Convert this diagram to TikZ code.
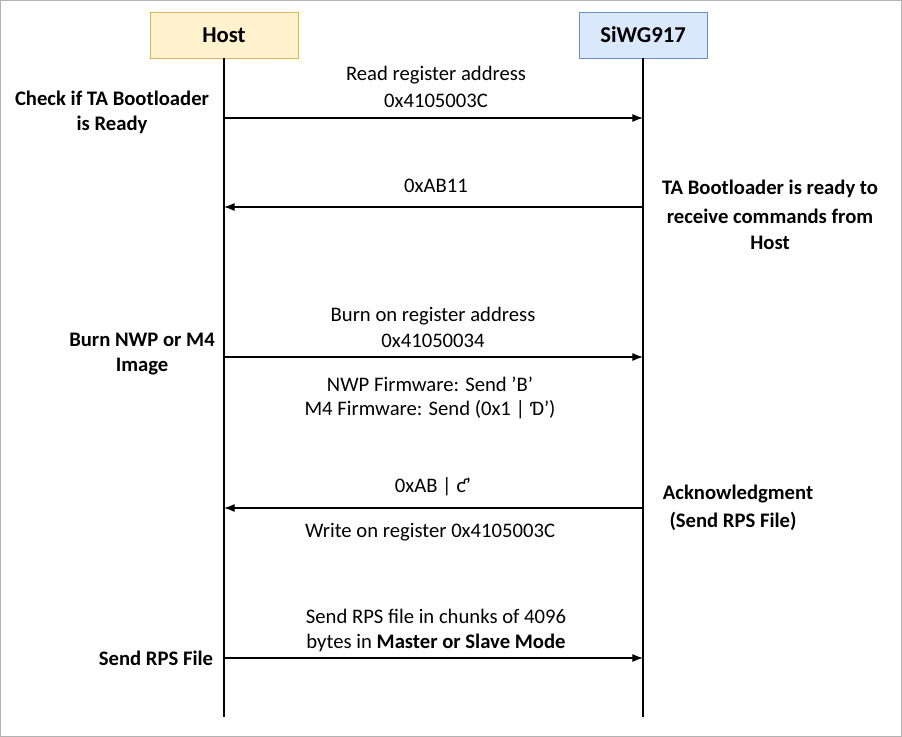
\documentclass[tikz,border=0pt]{standalone}
\usepackage{fontspec}
\setmainfont{Carlito}
\usetikzlibrary{arrows.meta}
\newcommand{\sq}{\char39}
\begin{document}
\begin{tikzpicture}[x=0.75pt,y=-0.75pt,
  lbl/.style={font=\fontsize{15.5}{17}\selectfont,align=center,inner sep=0},
  blbl/.style={lbl,font=\fontsize{15.5}{17}\selectfont\bfseries},
  msg/.style={-{Latex[length=8pt,width=6pt]},line width=0.8pt},
  life/.style={line width=0.8pt}]
\useasboundingbox (0,0) rectangle (902,737);
\draw[gray!60] (0.5,0.5) rectangle (901.5,736.5);
\node[draw={rgb,255:red,214;green,182;blue,86},fill={rgb,255:red,255;green,242;blue,204},minimum width=111pt,minimum height=34.5pt,font=\fontsize{17}{19}\selectfont\bfseries] (host) at (224,35) {Host};
\node[draw={rgb,255:red,108;green,142;blue,191},fill={rgb,255:red,218;green,232;blue,252},minimum width=96pt,minimum height=34.5pt,font=\fontsize{17}{19}\selectfont\bfseries] (si) at (643,35) {SiWG917};
\coordinate (he) at (224,717); \coordinate (se) at (643,717);
\draw[life] (host) -- (he); \draw[life] (si) -- (se);
\coordinate (h1) at (224,118); \coordinate (s1) at (643,118);
\coordinate (h2) at (224,207); \coordinate (s2) at (643,207);
\coordinate (h3) at (224,357); \coordinate (s3) at (643,357);
\coordinate (h4) at (224,508); \coordinate (s4) at (643,508);
\coordinate (h5) at (224,658); \coordinate (s5) at (643,658);
\draw[msg] (h1) -- (s1);
\draw[msg] (s2) -- (h2);
\draw[msg] (h3) -- (s3);
\draw[msg] (s4) -- (h4);
\draw[msg] (h5) -- (s5);
\node[lbl] (t1) at (436,75) {Read register address};
\node[lbl] (t2) at (436,101) {0x4105003C};
\node[lbl] (t3) at (436,186) {0xAB11};
\node[lbl] (t4) at (433,316) {Burn on register address};
\node[lbl] (t5) at (433,341) {0x41050034};
\node[lbl] (t6) at (430,384) {NWP Firmware: Send \sq B\sq};
\node[lbl] (t7) at (430,410) {M4 Firmware: Send (0x1 | \sq 4\sq)};
\node[lbl] (t8) at (433,487) {0xAB | \sq 2\sq};
\node[lbl] (t9) at (430,532) {Write on register 0x4105003C};
\node[lbl] (t10) at (436,616) {Send RPS file in chunks of 4096};
\node[lbl] (t11) at (436,643) {bytes in \textbf{Master or Slave Mode}};
\node[blbl] (l1) at (112,98) {Check if TA Bootloader};
\node[blbl] (l2) at (112,125) {is Ready};
\node[blbl] (l3) at (142,340) {Burn NWP or M4};
\node[blbl] (l4) at (142,367) {Image};
\node[blbl] (l5) at (156,658) {Send RPS File};
\node[blbl] (r1) at (770,189) {TA Bootloader is ready to};
\node[blbl] (r2) at (770,216) {receive commands from};
\node[blbl] (r3) at (770,243) {Host};
\node[blbl] (r4) at (738,494) {Acknowledgment};
\node[blbl] (r5) at (733,521) {(Send RPS File)};
\end{tikzpicture}
\end{document}
